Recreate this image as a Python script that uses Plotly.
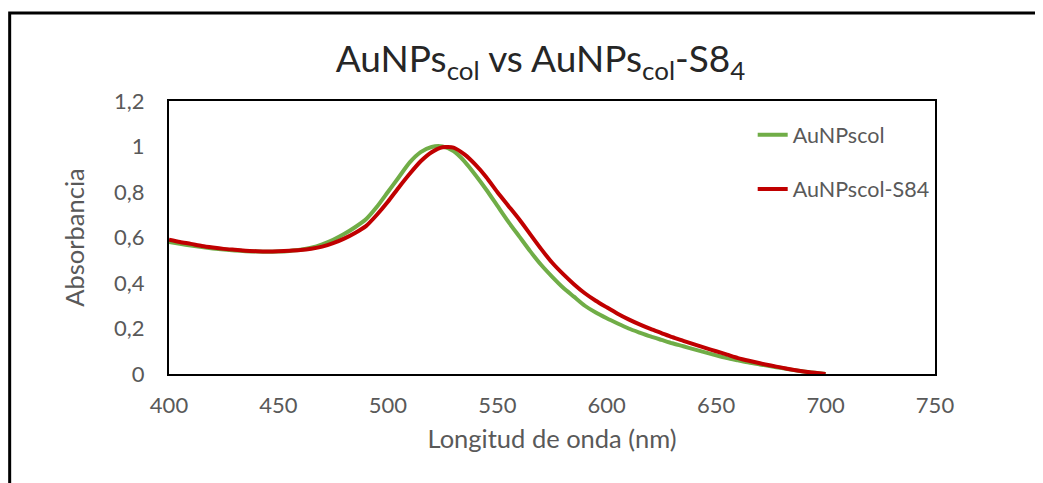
import plotly.graph_objects as go

wavelength = [400, 405, 410, 415, 420, 425, 430, 435, 440, 445, 450, 455, 460, 465, 470,
              475, 480, 485, 490, 495, 500, 505, 510, 515, 520, 525, 530, 535, 540, 545,
              550, 555, 560, 565, 570, 575, 580, 585, 590, 595, 600, 605, 610, 615, 620,
              625, 630, 635, 640, 645, 650, 655, 660, 665, 670, 675, 680, 685, 690, 695, 700]

aunps_col = [0.580, 0.572, 0.565, 0.558, 0.552, 0.547, 0.543, 0.540, 0.538, 0.537,
             0.538, 0.541, 0.546, 0.555, 0.570, 0.590, 0.615, 0.645, 0.680, 0.735,
             0.800, 0.865, 0.930, 0.975, 0.998, 1.000, 0.980, 0.935, 0.875, 0.810,
             0.740, 0.670, 0.605, 0.540, 0.480, 0.428, 0.380, 0.340, 0.300, 0.270,
             0.245, 0.222, 0.200, 0.182, 0.165, 0.150, 0.135, 0.122, 0.108, 0.095,
             0.082, 0.070, 0.060, 0.050, 0.042, 0.034, 0.026, 0.018, 0.011, 0.005, 0.000]

aunps_col_s84 = [0.590, 0.580, 0.572, 0.563, 0.556, 0.550, 0.546, 0.542, 0.540, 0.539,
                 0.540, 0.542, 0.545, 0.551, 0.560, 0.575, 0.595, 0.620, 0.650, 0.700,
                 0.757, 0.820, 0.880, 0.935, 0.975, 0.997, 0.995, 0.965, 0.920, 0.865,
                 0.800, 0.740, 0.680, 0.615, 0.550, 0.490, 0.440, 0.395, 0.355, 0.322,
                 0.293, 0.265, 0.240, 0.218, 0.198, 0.180, 0.162, 0.146, 0.130, 0.115,
                 0.100, 0.085, 0.070, 0.058, 0.047, 0.037, 0.028, 0.019, 0.011, 0.005, 0.000]

x_ticks = [400, 450, 500, 550, 600, 650, 700, 750]
y_ticks = [0, 0.2, 0.4, 0.6, 0.8, 1, 1.2]

FONT = "Lato"
GREY = "#595959"

fig = go.Figure()
fig.add_trace(go.Scatter(x=wavelength, y=aunps_col, mode="lines", name="AuNPscol",
                         line=dict(color="#70AD47", width=4, shape="spline", smoothing=0.6),
                         legend="legend", showlegend=True))
fig.add_trace(go.Scatter(x=wavelength, y=aunps_col_s84, mode="lines", name="AuNPscol-S84",
                         line=dict(color="#C00000", width=4, shape="spline", smoothing=0.6),
                         legend="legend2", showlegend=True))

leg_common = dict(font=dict(family=FONT, size=21.5, color=GREY), bgcolor="rgba(0,0,0,0)",
                  xanchor="left", yanchor="middle", visible=True)

# The page body has an 8 px margin, so the figure is drawn 8 px in from the window edge.
fig.update_layout(
    width=1035, height=475,
    showlegend=True,
    margin=dict(l=161, r=108, t=93, b=109),
    paper_bgcolor="white", plot_bgcolor="white",
    separators=",.",
    title=dict(text="AuNPs<sub>col</sub> vs AuNPs<sub>col</sub>-S8<sub>4</sub>",
               x=0.5145, xanchor="center", y=0.893, yanchor="middle",
               font=dict(family=FONT, size=37, color="#262626")),
    xaxis=dict(range=[400, 750], tickvals=x_ticks, showgrid=False, zeroline=False,
               showline=True, mirror=True, linecolor="black", linewidth=2,
               ticks="outside", ticklen=11, tickcolor="rgba(0,0,0,0)",
               tickfont=dict(family=FONT, size=22, color=GREY),
               title=dict(text="Longitud de onda (nm)", standoff=13,
                          font=dict(family=FONT, size=25.5, color=GREY))),
    yaxis=dict(range=[0, 1.2], tickvals=y_ticks, showgrid=False, zeroline=False,
               showline=True, mirror=True, linecolor="black", linewidth=2,
               ticks="outside", ticklen=18, tickcolor="rgba(0,0,0,0)",
               tickfont=dict(family=FONT, size=22, color=GREY),
               title=dict(text="Absorbancia", standoff=22,
                          font=dict(family=FONT, size=25.5, color=GREY))),
    legend=dict(x=0.762, y=0.876, **leg_common),
    legend2=dict(x=0.762, y=0.678, **leg_common),
    shapes=[dict(type="rect", xref="paper", yref="paper",
                 x0=-0.208, x1=1.15, y0=-0.42, y1=1.322,
                 line=dict(color="black", width=3), fillcolor="rgba(0,0,0,0)",
                 layer="below")],
)

fig.write_html("out.html")
